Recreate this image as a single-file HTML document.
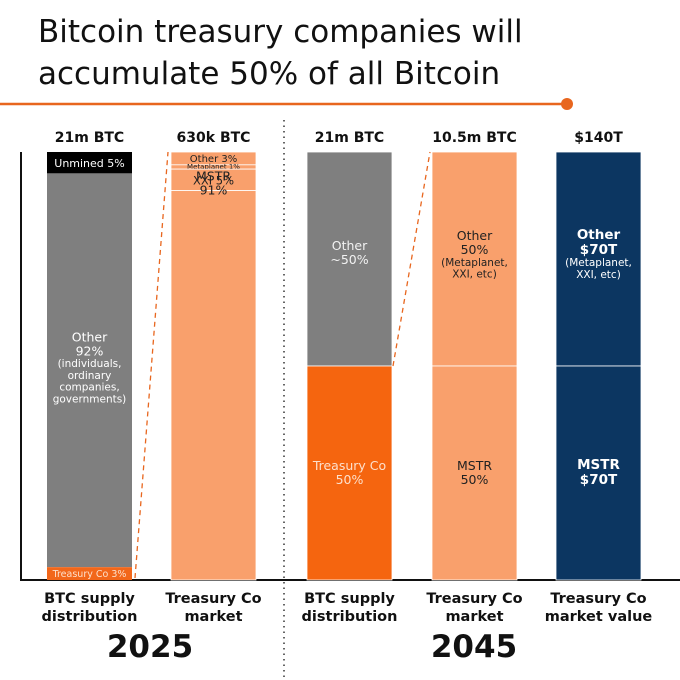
<!DOCTYPE html>
<html><head><meta charset="utf-8"><style>
html,body{margin:0;padding:0;background:#fff;}
svg{display:block;font-family:"DejaVu Sans","Liberation Sans",sans-serif;}
</style></head><body>
<svg id="c" width="680" height="680" viewBox="0 0 680 680">
<text x="38" y="42" font-size="31" fill="#111" font-family="DejaVu Sans, sans-serif">Bitcoin treasury companies will</text>
<text x="38" y="84" font-size="31" fill="#111" font-family="DejaVu Sans, sans-serif">accumulate 50% of all Bitcoin</text>
<line x1="0" y1="104" x2="566" y2="104" stroke="#E8661E" stroke-width="2.5"/>
<circle cx="567" cy="104" r="6" fill="#E8661E"/>
<line x1="284" y1="120" x2="284" y2="680" stroke="#333" stroke-width="1.5" stroke-dasharray="1.5,4"/>
<line x1="21" y1="152" x2="21" y2="581" stroke="#111" stroke-width="2"/>
<line x1="20" y1="580" x2="680" y2="580" stroke="#111" stroke-width="2"/>
<g id="bars"></g>
<text x="150" y="657" font-size="31" font-weight="bold" text-anchor="middle" fill="#111">2025</text>
<text x="474" y="657" font-size="31" font-weight="bold" text-anchor="middle" fill="#111">2045</text>
</svg>
<script>
const headers=["21m BTC","630k BTC","21m BTC","10.5m BTC","$140T"];
const catLine1=["BTC supply","Treasury Co","BTC supply","Treasury Co","Treasury Co"];
const catLine2=["distribution","market","distribution","market","market value"];
// segment values (top to bottom, percent)
const bar1=[5,92,3];
const bar2=[3,1,5,91];
const bar3=[50,50];
const bar4=[50,50];
const bar5=[50,50];
const series=[bar1,bar2,bar3,bar4,bar5];
const colors=[["#000","#7f7f7f","#F2671A"],["#F9A06C","#F9A06C","#F9A06C","#F9A06C"],["#7f7f7f","#F5650F"],["#F9A06C","#F9A06C"],["#0C3661","#0C3661"]];
const segLabels=[
 [["Unmined 5%"],["Other","92%","(individuals,","ordinary","companies,","governments)"],["Treasury Co 3%"]],
 [["Other 3%"],["Metaplanet 1%"],["XXI 5%"],["MSTR","91%"]],
 [["Other","~50%"],["Treasury Co","50%"]],
 [["Other","50%","(Metaplanet,","XXI, etc)"],["MSTR","50%"]],
 [["Other","$70T","(Metaplanet,","XXI, etc)"],["MSTR","$70T"]]
];
const barX=[47,171,307,432,556], barW=85;
const Y0=580, Y1=152;
const y=v=>Y0-(v/100)*(Y0-Y1);
const svg=document.getElementById('bars');
const NS="http://www.w3.org/2000/svg";
function mk(t,a){const e=document.createElementNS(NS,t);for(const k in a)e.setAttribute(k,a[k]);svg.appendChild(e);return e;}
const segTop=[];
series.forEach((vals,i)=>{
 let acc=100; const x=barX[i]; segTop.push([]);
 const h=mk('text',{x:x+barW/2,y:142,'font-size':14,'font-weight':'bold','text-anchor':'middle',fill:'#111'});
 
 
 h.textContent=headers[i];
 [catLine1[i],catLine2[i]].forEach((t,k)=>{
  const c=mk('text',{x:x+barW/2,y:603+k*18,'font-size':14.5,'font-weight':'bold','text-anchor':'middle',fill:'#111'});
  
  
  c.textContent=t;
 });
 vals.forEach((v,j)=>{
  const top=y(acc), bot=y(acc-v); acc-=v; segTop[i].push([top,bot]);
  const r=mk('rect',{x:x,y:top,width:barW,height:bot-top,fill:colors[i][j],stroke:(i==0&&j==0)?'none':'#fff','stroke-width':(i==0)?0:0.8});
  
  
  const lines=segLabels[i][j]; const mid=(top+bot)/2;
  let fs=12.5, col='#222', bold=false;
  if(i==0){col=(j==0)?'#fff':'#fff'; fs=(j==0)?11:12.5;}
  if(i==0&&j==2){fs=9.5;col='#fde0cc';}
  if(i==1&&j==1){fs=7;}
  if(i==1&&j==0){fs=10;}
  if(i==1&&j==2){fs=11.5;}
  if(i==2){col=(j==0)?'#f2f2f2':'#fde0cc';}
  if(i==4){col='#fff';bold=true;fs=13.5;}
  const lh=[];lines.forEach((t,k)=>{let f=fs;if(k>=2&&lines.length>3)f=(i==0?10.5:10.5);lh.push(f);});
  let total=lh.reduce((a,b)=>a+b*1.12,0);
  let cy=mid-total/2;
  if(i==3&&j==0||i==4&&j==0)cy=y(100)+ (i==3?76:74);
  if(i==3&&j==1||i==4&&j==1)cy=y(50)+ (i==3?92:90);
  if(i==2&&j==1)cy=y(50)+92;
  if(i==2&&j==0)cy=y(100)+86;
  if(i==0&&j==1)cy=y(95)+156;
  if(i==1&&j==3)cy=y(91)+ -22;
  lines.forEach((t,k)=>{
   cy+=lh[k]*1.12;
   const tx=mk('text',{x:x+barW/2,y:cy-2,'font-size':lh[k],'text-anchor':'middle',fill:col});
   if(bold&&k<2)tx.setAttribute('font-weight','bold');
   
   
   tx.textContent=t;
  });
 });
});
// connector dashed lines
const d1=mk('line',{x1:barX[0]+barW+3,y1:segTop[0][2][1]-2,x2:barX[1]-3,y2:Y1,stroke:'#E8661E','stroke-width':1.3,'stroke-dasharray':'5,4'});


const d2=mk('line',{x1:barX[2]+barW+1,y1:segTop[2][1][0],x2:barX[3]-2,y2:Y1,stroke:'#E8661E','stroke-width':1.3,'stroke-dasharray':'5,4'});


</script>
</body></html>
